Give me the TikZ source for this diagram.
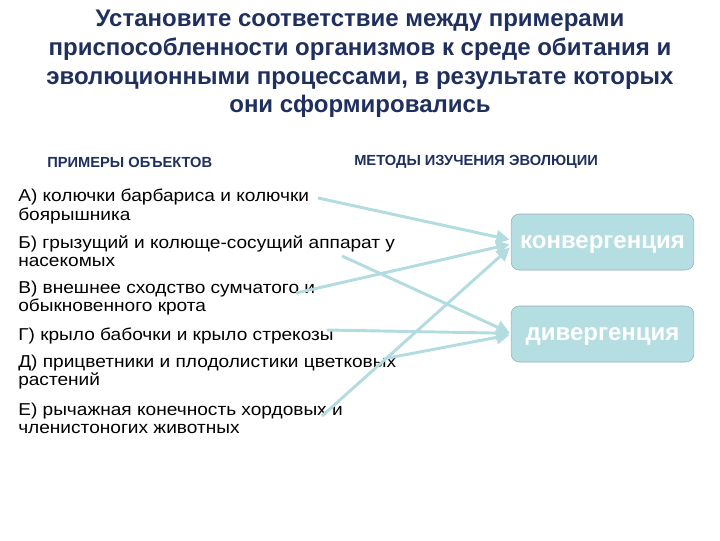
\documentclass[tikz,border=0pt]{standalone}
\usepackage{fontspec}
\setmainfont{Liberation Sans}
\newfontfamily\widefont{Liberation Sans}[FakeStretch=1.11]
\usetikzlibrary{arrows.meta}
\definecolor{titleblue}{HTML}{1F2F5E}
\definecolor{linkteal}{HTML}{B2DCDF}
\definecolor{boxfill}{HTML}{B5DEE2}
\definecolor{boxedge}{HTML}{8FB0B3}

\begin{document}
\begin{tikzpicture}[x=0.75pt,y=-0.75pt,>={Triangle[length=10pt,width=10pt]}]
 \tikzstyle{headline} = [font=\bfseries\fontsize{18}{21.4}\selectfont,text=titleblue,align=center,inner sep=0]
 \tikzstyle{colhead} = [font=\bfseries\fontsize{11}{13}\selectfont,text=titleblue,inner sep=0,anchor=west]
 \tikzstyle{item} = [font=\widefont\fontsize{12.9}{13.6}\selectfont,align=left,inner sep=0,anchor=north west]
 \tikzstyle{method} = [draw=boxedge,fill=boxfill,rounded corners=6pt,minimum width=137pt,minimum height=42pt,
   font=\bfseries\fontsize{18}{21}\selectfont,text=white,inner sep=0,text height=9.3pt,text depth=0pt]
 \tikzstyle{link} = [->,draw=linkteal,line width=2.2pt,shorten >=1pt]

 \useasboundingbox (0,0) rectangle (720,540);

 % Title
 \node[headline] (title) at (360,64) {Установите соответствие между примерами\\
   приспособленности организмов к среде обитания и\\
   эволюционными процессами, в результате которых\\
   они сформировались};

 % Column headings
 \node[colhead] (hleft) at (47,162) {ПРИМЕРЫ ОБЪЕКТОВ};
 \node[colhead] (hright) at (354,162) {МЕТОДЫ ИЗУЧЕНИЯ ЭВОЛЮЦИИ};

 % Examples
 \node[item] (a) at (18,189) {А) колючки барбариса и колючки\\боярышника};
 \node[item] (b) at (18,235) {Б) грызущий и колюще-сосущий аппарат у\\насекомых};
 \node[item] (v) at (18,281) {В) внешнее сходство сумчатого и\\обыкновенного крота};
 \node[item] (g) at (18,328) {Г) крыло бабочки и крыло стрекозы};
 \node[item] (d) at (18,355) {Д) прицветники и плодолистики цветковых\\растений};
 \node[item] (e) at (18,403) {Е) рычажная конечность хордовых и\\членистоногих животных};

 % Methods
 \node[method] (conv) at (602.5,242) {конвергенция};
 \node[method] (div) at (602.5,334) {дивергенция};

 % Free ends of the links
 \coordinate (a-end) at (318,198);
 \coordinate (b-end) at (342,256);
 \coordinate (v-end) at (296,293);
 \coordinate (g-end) at (327,330);
 \coordinate (d-end) at (388,358);
 \coordinate (e-end) at (322,416);

 % Links
 \draw[link] (a-end) -- ([yshift=1.5pt]conv.west);
 \draw[link] (v-end) -- ([yshift=-1.5pt]conv.west);
 \draw[link] (e-end) -- ([yshift=-3.5pt]conv.west);
 \draw[link] (b-end) -- ([yshift=0.5pt]div.west);
 \draw[link] (g-end) -- ([yshift=0.5pt]div.west);
 \draw[link] (d-end) -- ([yshift=-0.5pt]div.west);

\end{tikzpicture}
\end{document}
